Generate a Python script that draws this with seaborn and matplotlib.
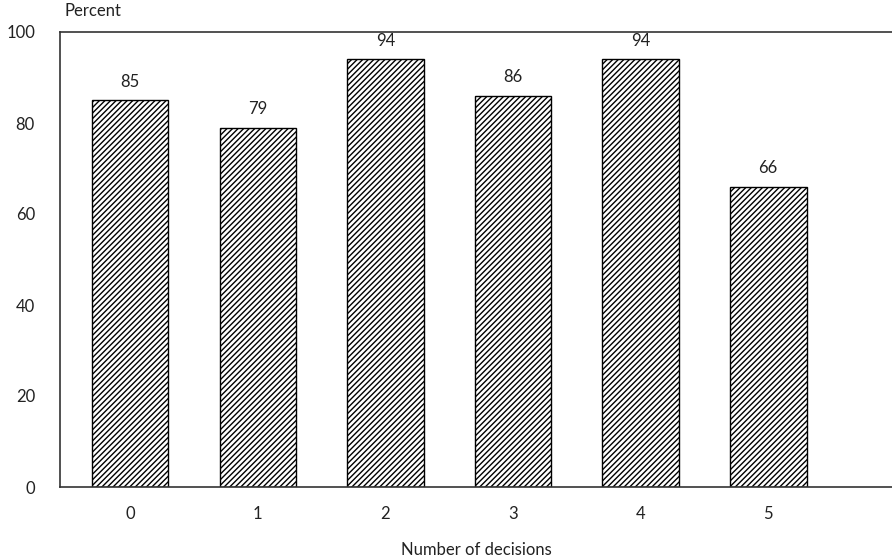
import matplotlib
matplotlib.use("Agg")
import matplotlib.pyplot as plt
import pandas as pd
import seaborn as sns

# data
decisions = ["0", "1", "2", "3", "4", "5"]
percent = [85, 79, 94, 86, 94, 66]

df = pd.DataFrame({"decisions": decisions, "percent": percent})

sns.set_theme(style="white")
plt.rcParams["font.family"] = ["Lato", "DejaVu Sans"]
plt.rcParams["hatch.color"] = "#5a5a5a"
plt.rcParams["hatch.linewidth"] = 1.0

fig = plt.figure(figsize=(8.92, 5.58), dpi=100)
ax = fig.add_axes([60 / 892, 1 - 487 / 558, 832 / 892, 455 / 558])

sns.barplot(data=df, x="decisions", y="percent", ax=ax, color="white",
            width=0.6, edgecolor="black", linewidth=1.0, hatch="//////",
            saturation=1)

fs = 12
for i, v in enumerate(percent):
    ax.text(i, v + 2.3, str(v), ha="center", va="bottom", fontsize=fs, color="#222222")

ax.set_ylim(0, 100)
ax.set_xlim(-0.55, 5.97)
ax.set_yticks([0, 20, 40, 60, 80, 100])
ax.tick_params(axis="both", length=0, labelsize=fs, colors="#222222")
ax.tick_params(axis="y", pad=18)
ax.tick_params(axis="x", pad=14)
ax.set_ylabel("")
ax.set_xlabel("Number of decisions", fontsize=fs, color="#222222", labelpad=14)
ax.text(0.005, 1.028, "Percent", transform=ax.transAxes, fontsize=fs,
        color="#222222", ha="left", va="bottom")

for side in ["left", "top", "bottom"]:
    ax.spines[side].set_visible(True)
    ax.spines[side].set_color("#333333")
    ax.spines[side].set_linewidth(1.2)
ax.spines["right"].set_visible(False)

fig.savefig("out.png", dpi=100)
